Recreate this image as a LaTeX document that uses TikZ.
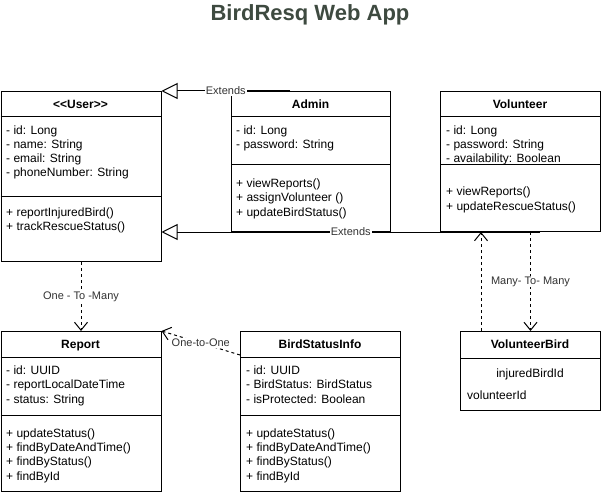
\documentclass[tikz,border=0pt]{standalone}
\usepackage{fontspec}
\setmainfont{Liberation Sans}
\usetikzlibrary{arrows.meta}
\definecolor{titlegreen}{RGB}{62,74,64}
\definecolor{lblgray}{RGB}{51,51,51}
\tikzset{
  cls/.style={draw, line width=1pt, anchor=north west, inner sep=0pt},
  hdr/.style={font=\fontsize{12}{14}\selectfont\bfseries, anchor=base, inner sep=0pt},
  mem/.style={font=\fontsize{12}{14}\selectfont, anchor=base west, inner sep=0pt},
  lbl/.style={font=\fontsize{11}{13}\selectfont, fill=white, inner sep=1pt, text=lblgray},
  ext/.style={line width=1pt, -{Triangle[open, length=16pt, width=16pt]}},
  dep/.style={line width=1pt, dash pattern=on 3pt off 3pt, -{Straight Barb[length=8pt, width=13pt]}},
}
\begin{document}
\begin{tikzpicture}[x=1pt, y=-1pt]
        \useasboundingbox (0,0) rectangle (601,494);
        \node[font=\fontsize{22}{26}\selectfont\bfseries, text=titlegreen] (title) at (310,15) {BirdResq Web App};
        % User
        \node[cls, minimum width=160pt, minimum height=170pt] (user) at (0.5,91) {};
        \draw[line width=1pt] (user.west |- 0,117) -- (user.east |- 0,117);
        \draw[line width=1pt] (user.west |- 0,196) -- (user.east |- 0,196);
        \node[hdr] (user-t) at (80.5,108.5) {<\kern0pt<User>\kern0pt>};
        \foreach \m [count=\i] in {- id: Long, - name: String, - email: String, - phoneNumber: String}{
            \node[mem] (user-a\i) at (6,{121+14*\i}) {\m};
        }
        \foreach \m [count=\i] in {+ reportInjuredBird(), + trackRescueStatus()}{
            \node[mem] (user-m\i) at (6,{202+14*\i}) {\m};
        }
        % Admin
        \node[cls, minimum width=159pt, minimum height=140pt] (admin) at (231,91) {};
        \draw[line width=1pt] (admin.west |- 0,117) -- (admin.east |- 0,117);
        \draw[line width=1pt] (admin.west |- 0,165) -- (admin.east |- 0,165);
        \node[hdr] (admin-t) at (310.5,108.5) {Admin};
        \foreach \m [count=\i] in {- id: Long, - password: String}{
            \node[mem] (admin-a\i) at (236,{121+14*\i}) {\m};
        }
        \foreach \m [count=\i] in {+ viewReports(), + assignVolunteer (), + updateBirdStatus()}{
            \node[mem] (admin-m\i) at (236,{173+14.4*\i}) {\m};
        }
        % Volunteer
        \node[cls, minimum width=160pt, minimum height=140pt] (volunteer) at (440,91) {};
        \draw[line width=1pt] (volunteer.west |- 0,117) -- (volunteer.east |- 0,117);
        \draw[line width=1pt] (volunteer.west |- 0,165) -- (volunteer.east |- 0,165);
        \node[hdr] (volunteer-t) at (520,108.5) {Volunteer};
        \foreach \m [count=\i] in {- id: Long, - password: String, - availability: Boolean}{
            \node[mem] (volunteer-a\i) at (446,{121+14*\i}) {\m};
        }
        \foreach \m [count=\i] in {+ viewReports(), + updateRescueStatus()}{
            \node[mem] (volunteer-m\i) at (446,{181.6+14.4*\i}) {\m};
        }
        % Report
        \node[cls, minimum width=160pt, minimum height=160pt] (report) at (0.5,331) {};
        \draw[line width=1pt] (report.west |- 0,357) -- (report.east |- 0,357);
        \draw[line width=1pt] (report.west |- 0,415) -- (report.east |- 0,415);
        \node[hdr] (report-t) at (80.5,348.5) {Report};
        \foreach \m [count=\i] in {- id: UUID, - reportLocalDateTime, - status: String}{
            \node[mem] (report-a\i) at (6,{359.5+14.5*\i}) {\m};
        }
        \foreach \m [count=\i] in {+ updateStatus(), + findByDateAndTime(), + findByStatus(), + findById}{
            \node[mem] (report-m\i) at (6,{422.6+14.4*\i}) {\m};
        }
        % BirdStatusInfo
        \node[cls, minimum width=160pt, minimum height=160pt] (bsi) at (240,331) {};
        \draw[line width=1pt] (bsi.west |- 0,357) -- (bsi.east |- 0,357);
        \draw[line width=1pt] (bsi.west |- 0,415) -- (bsi.east |- 0,415);
        \node[hdr] (bsi-t) at (320,348.5) {BirdStatusInfo};
        \foreach \m [count=\i] in {- id: UUID, - BirdStatus: BirdStatus, - isProtected: Boolean}{
            \node[mem] (bsi-a\i) at (246,{359.5+14.5*\i}) {\m};
        }
        \foreach \m [count=\i] in {+ updateStatus(), + findByDateAndTime(), + findByStatus(), + findById}{
            \node[mem] (bsi-m\i) at (246,{422.6+14.4*\i}) {\m};
        }
        % VolunteerBird
        \node[cls, minimum width=140pt, minimum height=79pt] (vbird) at (460,331) {};
        \draw[line width=1pt] (vbird.west |- 0,358) -- (vbird.east |- 0,358);
        \node[hdr] (vbird-t) at (530,348.5) {VolunteerBird};
        \node[mem, anchor=base] (vbird-a1) at (530,377) {injuredBirdId};
        \node[mem] (vbird-a2) at (467,399) {volunteerId};
        % connectors
        \draw[ext] ([xshift=59pt]admin.north west) -- node[lbl] (ext1) {Extends} (user.north east);
        \draw[ext] ([xshift=100pt]volunteer.south west) -- node[lbl] (ext2) {Extends} (user.east |- volunteer.south);
        \draw[dep] (user.south) -- node[lbl] (one2many) {One - To -Many} (report.north);
        \draw[dep] ([yshift=-24pt]bsi.north west) -- node[lbl] (one2one) {One-to-One} (report.north east);
        \coordinate (vb-up) at ([xshift=21pt]vbird.north west);
        \draw[dep] (vb-up) -- (vb-up |- volunteer.south);
        \draw[dep] (vbird.north |- volunteer.south) -- node[lbl] (many2many) {Many- To- Many} (vbird.north);
\end{tikzpicture}
\end{document}
